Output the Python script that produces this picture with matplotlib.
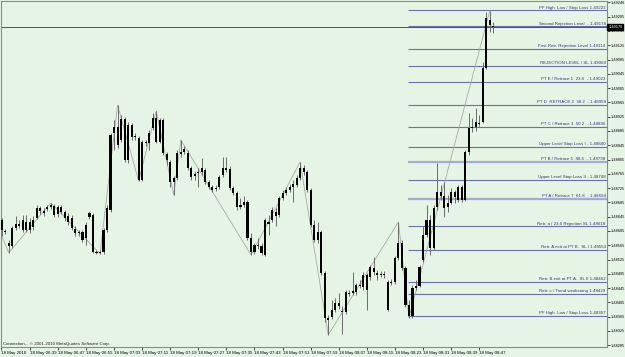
import matplotlib
matplotlib.use("Agg")
import matplotlib.pyplot as plt
import matplotlib.transforms as mtransforms
import numpy as np

plt.rcParams['font.family'] = ['Liberation Sans', 'DejaVu Sans']

# 1 minute bars
opens = [1.48636, 1.48605, 1.48572, 1.48563, 1.48614, 1.48625, 1.48608, 1.48630, 1.48608, 1.48616,
         1.48642, 1.48670, 1.48661, 1.48667, 1.48672, 1.48675, 1.48653, 1.48672, 1.48658, 1.48647,
         1.48642, 1.48611, 1.48602, 1.48602, 1.48586, 1.48644, 1.48650, 1.48546, 1.48544, 1.48546,
         1.48608, 1.48664, 1.48880, 1.48896, 1.48860, 1.48919, 1.48804, 1.48902, 1.48871, 1.48866,
         1.48748, 1.48854, 1.48852, 1.48894, 1.48922, 1.48854, 1.48916, 1.48821, 1.48798, 1.48742,
         1.48754, 1.48821, 1.48826, 1.48824, 1.48782, 1.48759, 1.48768, 1.48770, 1.48776, 1.48742,
         1.48728, 1.48723, 1.48728, 1.48762, 1.48782, 1.48779, 1.48726, 1.48712, 1.48672, 1.48678,
         1.48686, 1.48586, 1.48546, 1.48566, 1.48563, 1.48538, 1.48630, 1.48636, 1.48658, 1.48650,
         1.48698, 1.48712, 1.48720, 1.48728, 1.48734, 1.48754, 1.48782, 1.48770, 1.48720, 1.48622,
         1.48580, 1.48602, 1.48488, 1.48362, 1.48364, 1.48384, 1.48404, 1.48381, 1.48378, 1.48432,
         1.48432, 1.48434, 1.48454, 1.48448, 1.48482, 1.48476, 1.48502, 1.48488, 1.48482, 1.48485,
         1.48462, 1.48460, 1.48462, 1.48530, 1.48572, 1.48502, 1.48398, 1.48367, 1.48446, 1.48451,
         1.48524, 1.48594, 1.48636, 1.48558, 1.48672, 1.48714, 1.48703, 1.48672, 1.48684, 1.48714,
         1.48692, 1.48728, 1.48692, 1.48826, 1.48894, 1.48896, 1.48908, 1.48910, 1.49062, 1.49196,
         1.49176]
highs = [1.48642, 1.48611, 1.48580, 1.48619, 1.48647, 1.48636, 1.48650, 1.48650, 1.48642, 1.48647,
         1.48678, 1.48675, 1.48670, 1.48678, 1.48684, 1.48681, 1.48678, 1.48678, 1.48664, 1.48656,
         1.48650, 1.48619, 1.48608, 1.48608, 1.48630, 1.48661, 1.48656, 1.48552, 1.48552, 1.48614,
         1.48678, 1.48880, 1.48916, 1.48958, 1.48930, 1.48924, 1.48910, 1.48908, 1.48880, 1.48871,
         1.48860, 1.48860, 1.48888, 1.48936, 1.48941, 1.48922, 1.48922, 1.48826, 1.48804, 1.48759,
         1.48832, 1.48860, 1.48843, 1.48832, 1.48787, 1.48773, 1.48782, 1.48810, 1.48782, 1.48748,
         1.48734, 1.48734, 1.48762, 1.48812, 1.48812, 1.48787, 1.48731, 1.48717, 1.48698, 1.48703,
         1.48692, 1.48600, 1.48572, 1.48586, 1.48572, 1.48642, 1.48650, 1.48672, 1.48670, 1.48703,
         1.48720, 1.48728, 1.48737, 1.48748, 1.48762, 1.48798, 1.48790, 1.48776, 1.48726, 1.48636,
         1.48630, 1.48608, 1.48493, 1.48370, 1.48412, 1.48418, 1.48432, 1.48395, 1.48440, 1.48440,
         1.48490, 1.48460, 1.48468, 1.48490, 1.48488, 1.48510, 1.48532, 1.48496, 1.48493, 1.48493,
         1.48468, 1.48471, 1.48535, 1.48630, 1.48580, 1.48507, 1.48412, 1.48454, 1.48468, 1.48510,
         1.48619, 1.48678, 1.48650, 1.48678, 1.48796, 1.48734, 1.48742, 1.48706, 1.48726, 1.48720,
         1.48734, 1.48734, 1.48832, 1.48936, 1.48922, 1.48950, 1.48930, 1.49078, 1.49218, 1.49221,
         1.49190]
lows = [1.48591, 1.48597, 1.48544, 1.48558, 1.48608, 1.48614, 1.48602, 1.48602, 1.48600, 1.48608,
        1.48639, 1.48653, 1.48647, 1.48661, 1.48667, 1.48644, 1.48644, 1.48653, 1.48633, 1.48622,
        1.48608, 1.48591, 1.48591, 1.48574, 1.48566, 1.48639, 1.48544, 1.48541, 1.48541, 1.48541,
        1.48602, 1.48658, 1.48832, 1.48838, 1.48854, 1.48798, 1.48796, 1.48860, 1.48860, 1.48745,
        1.48745, 1.48843, 1.48832, 1.48888, 1.48852, 1.48852, 1.48818, 1.48790, 1.48728, 1.48706,
        1.48748, 1.48812, 1.48821, 1.48776, 1.48748, 1.48748, 1.48728, 1.48762, 1.48737, 1.48723,
        1.48714, 1.48717, 1.48723, 1.48756, 1.48770, 1.48720, 1.48706, 1.48664, 1.48667, 1.48672,
        1.48580, 1.48538, 1.48541, 1.48555, 1.48538, 1.48535, 1.48594, 1.48630, 1.48619, 1.48644,
        1.48692, 1.48706, 1.48714, 1.48686, 1.48728, 1.48748, 1.48762, 1.48714, 1.48616, 1.48574,
        1.48572, 1.48482, 1.48350, 1.48314, 1.48359, 1.48378, 1.48387, 1.48317, 1.48373, 1.48423,
        1.48426, 1.48426, 1.48446, 1.48440, 1.48384, 1.48468, 1.48482, 1.48468, 1.48476, 1.48474,
        1.48381, 1.48454, 1.48457, 1.48524, 1.48496, 1.48392, 1.48362, 1.48362, 1.48440, 1.48448,
        1.48518, 1.48588, 1.48538, 1.48552, 1.48664, 1.48692, 1.48644, 1.48658, 1.48681, 1.48684,
        1.48686, 1.48686, 1.48689, 1.48818, 1.48882, 1.48885, 1.48899, 1.48908, 1.49059, 1.49162,
        1.49160]
closes = [1.48608, 1.48602, 1.48563, 1.48614, 1.48625, 1.48619, 1.48636, 1.48608, 1.48630, 1.48636,
          1.48670, 1.48661, 1.48656, 1.48672, 1.48678, 1.48650, 1.48672, 1.48658, 1.48642, 1.48630,
          1.48614, 1.48600, 1.48600, 1.48580, 1.48622, 1.48656, 1.48546, 1.48544, 1.48546, 1.48608,
          1.48670, 1.48874, 1.48896, 1.48846, 1.48919, 1.48804, 1.48902, 1.48868, 1.48868, 1.48748,
          1.48854, 1.48852, 1.48880, 1.48922, 1.48854, 1.48916, 1.48824, 1.48804, 1.48742, 1.48754,
          1.48824, 1.48826, 1.48835, 1.48782, 1.48756, 1.48765, 1.48770, 1.48782, 1.48742, 1.48728,
          1.48720, 1.48726, 1.48756, 1.48782, 1.48776, 1.48726, 1.48712, 1.48672, 1.48678, 1.48686,
          1.48586, 1.48546, 1.48566, 1.48563, 1.48544, 1.48636, 1.48625, 1.48664, 1.48647, 1.48698,
          1.48712, 1.48720, 1.48728, 1.48737, 1.48754, 1.48782, 1.48770, 1.48720, 1.48622, 1.48580,
          1.48602, 1.48488, 1.48362, 1.48356, 1.48384, 1.48404, 1.48395, 1.48378, 1.48434, 1.48429,
          1.48437, 1.48454, 1.48451, 1.48482, 1.48440, 1.48504, 1.48490, 1.48482, 1.48485, 1.48482,
          1.48384, 1.48462, 1.48530, 1.48572, 1.48502, 1.48398, 1.48367, 1.48446, 1.48451, 1.48504,
          1.48594, 1.48636, 1.48558, 1.48670, 1.48714, 1.48703, 1.48670, 1.48684, 1.48714, 1.48700,
          1.48728, 1.48692, 1.48826, 1.48894, 1.48896, 1.48910, 1.48905, 1.49062, 1.49202, 1.49182,
          1.49176]

# zigzag swing points (bar index, which end of the bar)
zz_bars = [0, 2, 14, 28, 33, 39, 44, 49, 51, 71, 85, 93, 113, 116, 139]
zz_side = ['l', 'l', 'h', 'l', 'h', 'l', 'h', 'l', 'h', 'l', 'h', 'l', 'h', 'l', 'h']

level_prices = [1.49223, 1.49178, 1.49114, 1.49068, 1.49023, 1.48958, 1.48896, 1.48840,
                1.48798, 1.48748, 1.48694, 1.48618, 1.48553, 1.48462, 1.48429, 1.48367]
level_names = ['PF High  Low / Stop Loss', 'Second Rejection Level  -', 'First Retr. Rejection Level',
               'REJECTION LEVEL / SL', 'PT E / Retrace 1  23.6  -', 'PT D  RETRACE 2  38.2  -',
               'PT C / Retrace 3  50.2  -', 'Upper Level Stop Loss I -', 'PT B / Retrace 5  88.6  -',
               'Upper Level Stop Loss II -', 'PT A / Retrace 7  61.8  -', 'Retr. a / 23.6 Rejection SL',
               'Retr. A exit at PT B.  SL I', 'Retr. B exit at PT A.  SL II', 'Retr. c / Trend weakening',
               'PF High  Low / Stop Loss']
heavy_levels = [1.48798, 1.48694]

price_ticks = [1.49246, 1.49205, 1.49165, 1.49125, 1.49085, 1.49045, 1.49005, 1.48965, 1.48925,
               1.48885, 1.48845, 1.48805, 1.48765, 1.48725, 1.48685, 1.48645, 1.48605, 1.48565,
               1.48525, 1.48485, 1.48445, 1.48405, 1.48365, 1.48325, 1.48285]

time_bars = [8, 16, 24, 32, 40, 48, 56, 64, 72, 80, 88, 96, 104, 112, 120, 128, 136]
time_labels = ['18 May 06:39', '18 May 06:47', '18 May 06:55', '18 May 07:03', '18 May 07:11',
               '18 May 07:19', '18 May 07:27', '18 May 07:35', '18 May 07:43', '18 May 07:51',
               '18 May 07:59', '18 May 08:07', '18 May 08:15', '18 May 08:23', '18 May 08:31',
               '18 May 08:39', '18 May 08:47']

BG = '#e6f4e6'
FS = 3.2


def main():
    o = np.array(opens)
    h = np.array(highs)
    l = np.array(lows)
    c = np.array(closes)
    x = np.arange(len(o))

    fig = plt.figure(figsize=(6.25, 3.57), dpi=100, facecolor=BG)
    ax = fig.add_axes([1 / 625, 10 / 357, 606 / 625, 346 / 357])
    ax.set_facecolor(BG)
    x0, x1 = -0.2, 172.4
    ax.set_xlim(x0, x1)
    ax.set_ylim(1.48280, 1.49249)

    # levels
    lx = 115.8
    for p, name in zip(level_prices, level_names):
        if p in heavy_levels:
            ax.hlines(p, lx, x1, color='#a4aad2', lw=1.6, zorder=1)
        else:
            ax.hlines(p, lx, x1, color='#6a70aa', lw=0.8, zorder=1)
        ax.text(x1 - 0.4, p + 0.00002, '%s %.5f' % (name, p), fontsize=FS, color='#35357a',
                ha='right', va='bottom', zorder=5)

    # bid line
    ax.axhline(c[-1], color='#505050', lw=0.7, zorder=2)

    # zigzag
    zy = [h[b] if s == 'h' else l[b] for b, s in zip(zz_bars, zz_side)]
    ax.plot(zz_bars, zy, color='#a8a8a8', lw=0.6, zorder=2)

    # candles
    ax.vlines(x, l, h, color='#6a6a6a', lw=0.7, zorder=3)
    bot = np.minimum(o, c)
    hgt = np.maximum(np.abs(c - o), 0.00003)
    ax.bar(x, hgt, bottom=bot, width=0.6, color='black', linewidth=0, zorder=4)

    # price axis
    ax.yaxis.tick_right()
    ax.set_yticks(price_ticks)
    ax.set_yticklabels(['%.5f' % t for t in price_ticks])
    ax.tick_params(axis='y', labelsize=2.8, length=2, width=0.5, pad=0.5, colors='black')
    tr = mtransforms.blended_transform_factory(ax.transAxes, ax.transData)
    ax.text(1.002, c[-1], '%.5f' % c[-1], transform=tr, fontsize=2.8, color='white',
            ha='left', va='center', zorder=6,
            bbox=dict(boxstyle='square,pad=0.2', fc='black', ec='black'))

    # time axis
    ax.set_xticks([x0] + time_bars)
    ax.set_xticklabels(['18 May 2010'] + time_labels, ha='left')
    ax.tick_params(axis='x', labelsize=FS, length=2, width=0.5, pad=1, colors='black')

    for s in ax.spines.values():
        s.set_color('#8a8a8a')
        s.set_linewidth(0.8)

    ax.text(0.003, 0.004, 'Connection... \u00a9 2001-2010 MetaQuotes Software Corp.',
            transform=ax.transAxes, fontsize=FS, color='#202020', ha='left', va='bottom')

    fig.savefig('out.png', dpi=100, facecolor=BG)


if __name__ == '__main__':
    main()
